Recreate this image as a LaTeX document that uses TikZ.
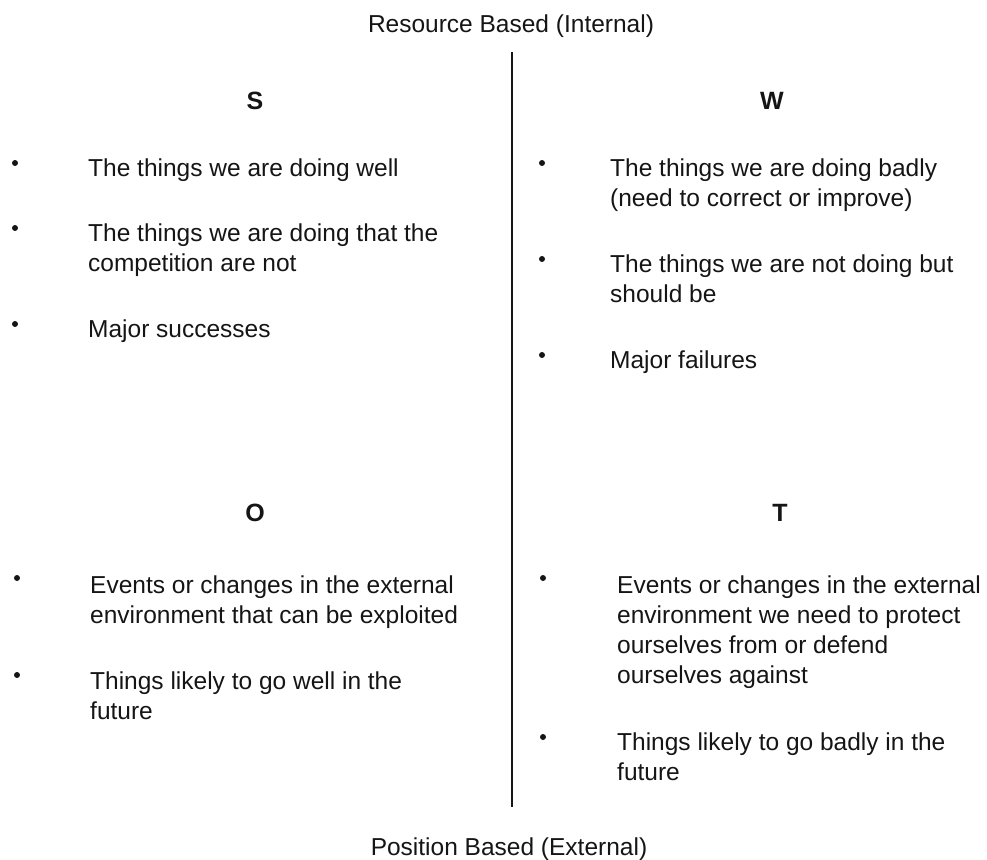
\documentclass[tikz,border=0pt]{standalone}
\usepackage{fontspec}
\setmainfont{Liberation Sans}
% stacked lines of one bullet item; the box baseline is that of its first line
\newcommand{\itemlines}[1]{\vtop{\halign{##\hfil\cr#1\crcr}}}
\definecolor{ink}{HTML}{151515}
\begin{document}
\begin{tikzpicture}[x=1pt,y=-1pt,
  every node/.style={inner sep=0pt,text=ink},
  axislabel/.style={font=\fontsize{24.5}{30}\selectfont,anchor=base},
  quadhead/.style={font=\fontsize{25}{30}\selectfont\bfseries,anchor=base},
  itemtext/.style={font=\fontsize{24.5}{30}\selectfont,anchor=base west},
  bulletdot/.style={circle,fill=ink,minimum size=6pt},
  divider/.style={draw=ink,line width=1.6pt}]
\useasboundingbox (0,0) rectangle (987,859);

% axis labels and the dividing line
\node[axislabel] (internal) at (511,33) {Resource Based (Internal)};
\node[axislabel] (external) at (509,855) {Position Based (External)};
\coordinate (divtop) at (512,52);
\coordinate (divbot) at (512,807);
\draw[divider] (divtop) -- (divbot);

% quadrant headings
\node[quadhead] (hS) at (255,109) {S};
\node[quadhead] (hW) at (772,109) {W};
\node[quadhead] (hO) at (255,521) {O};
\node[quadhead] (hT) at (780,521) {T};

% strengths
\node[bulletdot] (sb1) at (15,163) {};
\node[itemtext] (s1) at (88,176) {\itemlines{The things we are doing well}};
\node[bulletdot] (sb2) at (15,228) {};
\node[itemtext] (s2) at (88,241) {\itemlines{The things we are doing that the\cr competition are not}};
\node[bulletdot] (sb3) at (15,324) {};
\node[itemtext] (s3) at (88,337) {\itemlines{Major successes}};

% weaknesses
\node[bulletdot] (wb1) at (542,163) {};
\node[itemtext] (w1) at (610,176) {\itemlines{The things we are doing badly\cr (need to correct or improve)}};
\node[bulletdot] (wb2) at (542,259) {};
\node[itemtext] (w2) at (610,272) {\itemlines{The things we are not doing but\cr should be}};
\node[bulletdot] (wb3) at (542,355) {};
\node[itemtext] (w3) at (610,368) {\itemlines{Major failures}};

% opportunities
\node[bulletdot] (ob1) at (17,578) {};
\node[itemtext] (o1) at (90,593) {\itemlines{Events or changes in the external\cr environment that can be exploited}};
\node[bulletdot] (ob2) at (17,675) {};
\node[itemtext] (o2) at (90,689) {\itemlines{Things likely to go well in the\cr future}};

% threats
\node[bulletdot] (tb1) at (543,578) {};
\node[itemtext] (t1) at (617,593) {\itemlines{Events or changes in the external\cr environment we need to protect\cr ourselves from or defend\cr ourselves against}};
\node[bulletdot] (tb2) at (543,737) {};
\node[itemtext] (t2) at (617,750) {\itemlines{Things likely to go badly in the\cr future}};
\end{tikzpicture}
\end{document}
